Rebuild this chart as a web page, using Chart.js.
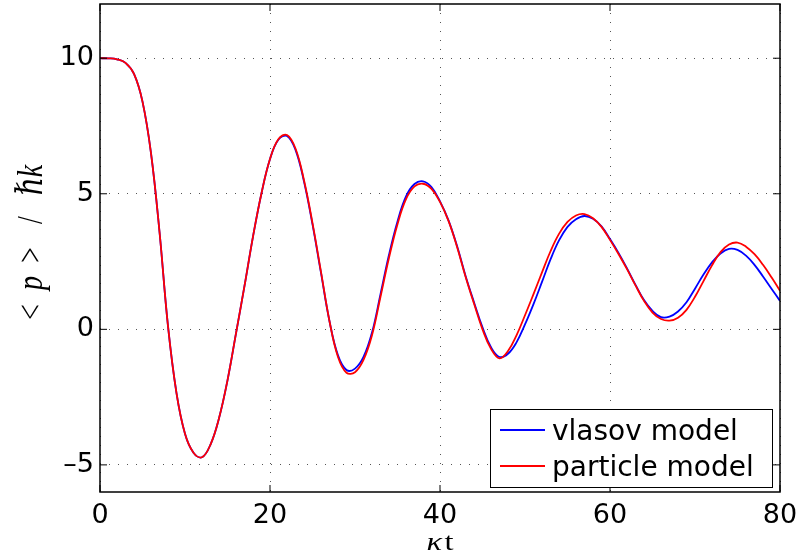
<!DOCTYPE html>
<html>
<head>
<meta charset="utf-8">
<script src="https://cdn.jsdelivr.net/npm/chart.js@4.4.1/dist/chart.umd.min.js"></script>
<style>
  body { margin: 0; background: #fff; }
  canvas { display: block; }
</style>
</head>
<body>
<canvas id="myChart" width="803" height="559"></canvas>
<script>
// kappa*t sample points
const kt = [
  0, 1, 2, 3, 4, 5, 6, 7, 8, 9, 10, 11, 12, 13, 14, 15, 16, 17, 18, 19, 20,
  21, 22, 23, 24, 25, 26, 27, 28, 29, 30, 31, 32, 33, 34, 35, 36, 37, 38, 39, 40,
  41, 42, 43, 44, 45, 46, 47, 48, 49, 50, 51, 52, 53, 54, 55, 56, 57, 58, 59, 60,
  61, 62, 63, 64, 65, 66, 67, 68, 69, 70, 71, 72, 73, 74, 75, 76, 77, 78, 79, 80
];

// <p> / hbar k
const vlasov = [
  10, 9.995, 9.96, 9.83, 9.42, 8.4, 6.5, 3.6, 0.12, -2.35, -3.85,
  -4.55, -4.72, -4.25, -3.28, -1.88, -0.15, 1.6, 3.42, 5.02, 6.28,
  7.0, 7.13, 6.62, 5.45, 3.87, 2.08, 0.3, -0.96, -1.5, -1.45,
  -1.02, -0.12, 1.3, 2.75, 3.98, 4.9, 5.36, 5.46, 5.25, 4.72,
  4.02, 3.08, 1.98, 1.0, 0.07, -0.66, -1.02, -0.9, -0.48, 0.18,
  0.93, 1.75, 2.58, 3.28, 3.78, 4.06, 4.18, 4.08, 3.8, 3.33,
  2.82, 2.25, 1.64, 1.08, 0.68, 0.45, 0.47, 0.66, 1.0, 1.5,
  2.02, 2.47, 2.8, 2.97, 2.93, 2.72, 2.38, 1.95, 1.5, 1.05
];

const particle = [
  10, 9.995, 9.96, 9.83, 9.42, 8.4, 6.5, 3.6, 0.12, -2.35, -3.85,
  -4.55, -4.72, -4.25, -3.28, -1.88, -0.15, 1.6, 3.42, 5.02, 6.28,
  7.02, 7.17, 6.67, 5.5, 3.92, 2.12, 0.3, -1.02, -1.6, -1.58,
  -1.13, -0.22, 1.2, 2.64, 3.88, 4.8, 5.27, 5.37, 5.18, 4.7,
  4.0, 3.05, 1.95, 0.95, 0.0, -0.72, -1.07, -0.8, -0.22, 0.52,
  1.3, 2.1, 2.88, 3.52, 3.96, 4.2, 4.25, 4.1, 3.78, 3.3,
  2.78, 2.22, 1.62, 1.05, 0.62, 0.38, 0.32, 0.43, 0.72, 1.2,
  1.78, 2.36, 2.85, 3.13, 3.2, 3.05, 2.77, 2.38, 1.92, 1.42
];

const xTicks = [0, 20, 40, 60, 80];
const yTicks = [-5, 0, 5, 10];

function toPoints(ys) {
  return ys.map((v, i) => ({ x: kt[i], y: v }));
}

// frame, inward tick marks, boxed legend and the two axis titles
const matlabLook = {
  id: 'matlabLook',
  afterDatasetsDraw(chart) {
    const { ctx, chartArea: a, scales: { x, y } } = chart;
    ctx.save();

    ctx.strokeStyle = '#000';
    ctx.lineWidth = 1;
    ctx.beginPath();
    xTicks.forEach((v) => {
      const px = x.getPixelForValue(v);
      ctx.moveTo(px, a.bottom);
      ctx.lineTo(px, a.bottom - 7);
      ctx.moveTo(px, a.top);
      ctx.lineTo(px, a.top + 7);
    });
    yTicks.forEach((v) => {
      const py = y.getPixelForValue(v);
      ctx.moveTo(a.left, py);
      ctx.lineTo(a.left + 7, py);
      ctx.moveTo(a.right, py);
      ctx.lineTo(a.right - 7, py);
    });
    ctx.stroke();

    ctx.lineWidth = 1.5;
    ctx.strokeRect(a.left, a.top, a.right - a.left, a.bottom - a.top);

    // legend box
    const lx = 490, ly = 409, lw = 282, lh = 78;
    ctx.fillStyle = '#fff';
    ctx.fillRect(lx, ly, lw, lh);
    ctx.lineWidth = 1;
    ctx.strokeRect(lx + 0.5, ly + 0.5, lw, lh);
    const rows = [430, 466];
    ctx.font = '28px "DejaVu Sans"';
    ctx.textAlign = 'left';
    ctx.textBaseline = 'alphabetic';
    chart.data.datasets.forEach((ds, i) => {
      const ry = rows[i];
      ctx.strokeStyle = ds.borderColor;
      ctx.lineWidth = 1.8;
      ctx.beginPath();
      ctx.moveTo(lx + 10, ry);
      ctx.lineTo(lx + 55, ry);
      ctx.stroke();
      ctx.fillStyle = '#000';
      ctx.fillText(ds.label, lx + 62, ry + 10);
    });

    // x title: kappa t
    ctx.fillStyle = '#000';
    ctx.textBaseline = 'alphabetic';
    ctx.save();
    ctx.translate((a.left + a.right) / 2, 550);
    ctx.scale(1.3, 1);
    ctx.font = 'italic 25px "Liberation Serif"';
    const wk = ctx.measureText('\u03ba').width;
    ctx.font = '25px "Liberation Serif"';
    const wt = ctx.measureText('t').width;
    const x0 = -(wk + 2 + wt) / 2;
    ctx.font = 'italic 25px "Liberation Serif"';
    ctx.textAlign = 'left';
    ctx.fillText('\u03ba', x0, 0);
    ctx.font = '25px "Liberation Serif"';
    ctx.fillText('t', x0 + wk + 2, 0);
    ctx.restore();

    // y title: < p > / hbar k, read bottom to top
    ctx.save();
    ctx.translate(42, 242);
    ctx.rotate(-Math.PI / 2);
    ctx.scale(1, 1.3);
    ctx.textAlign = 'center';
    const parts = [
      ['<', '', -70],
      ['p', 'italic ', -41],
      ['>', '', -13],
      ['/', '', 22],
      ['\u210fk', 'italic ', 62]
    ];
    parts.forEach(([txt, style, off]) => {
      ctx.font = style + '28px "Liberation Serif", "DejaVu Serif"';
      ctx.fillText(txt, off, 0);
    });
    ctx.restore();

    ctx.restore();
  }
};

const ctx = document.getElementById('myChart');

new Chart(ctx, {
  type: 'line',
  data: {
    datasets: [
      {
        label: 'vlasov model',
        data: toPoints(vlasov),
        borderColor: '#0000ff',
        borderWidth: 1.8,
        pointRadius: 0,
        tension: 0.4,
        fill: false,
        order: 1,
      },
      {
        label: 'particle model',
        data: toPoints(particle),
        borderColor: '#ff0000',
        borderWidth: 1.8,
        pointRadius: 0,
        tension: 0.4,
        fill: false,
        order: 0,
      },
    ],
  },
  options: {
    responsive: false,
    animation: false,
    devicePixelRatio: 1,
    layout: { padding: { top: 4, right: 23, left: 0, bottom: 0 } },
    plugins: {
      legend: { display: false },
      tooltip: { enabled: false },
    },
    scales: {
      x: {
        type: 'linear',
        min: 0,
        max: 80,
        afterBuildTicks: (scale) => {
          scale.ticks = xTicks.map((v) => ({ value: v }));
        },
        afterFit: (scale) => {
          scale.height = 67;
          scale.paddingLeft = 0;
          scale.paddingRight = 0;
        },
        grid: { color: '#555', lineWidth: 1, drawTicks: false },
        border: { display: false, dash: [1, 8] },
        ticks: {
          color: '#000',
          padding: 8,
          maxRotation: 0,
          font: { family: 'DejaVu Sans', size: 27 },
        },
      },
      y: {
        min: -6,
        max: 12,
        afterBuildTicks: (scale) => {
          scale.ticks = yTicks.map((v) => ({ value: v }));
        },
        afterFit: (scale) => {
          scale.width = 100;
          scale.paddingTop = 0;
          scale.paddingBottom = 0;
        },
        grid: { color: '#555', lineWidth: 1, drawTicks: false },
        border: { display: false, dash: [1, 8] },
        ticks: {
          color: '#000',
          padding: 6,
          font: { family: 'DejaVu Sans', size: 27 },
          callback: (v) => (v < 0 ? '\u2013' + Math.abs(v) : String(v)),
        },
      },
    },
  },
  plugins: [matlabLook],
});
</script>
</body>
</html>
